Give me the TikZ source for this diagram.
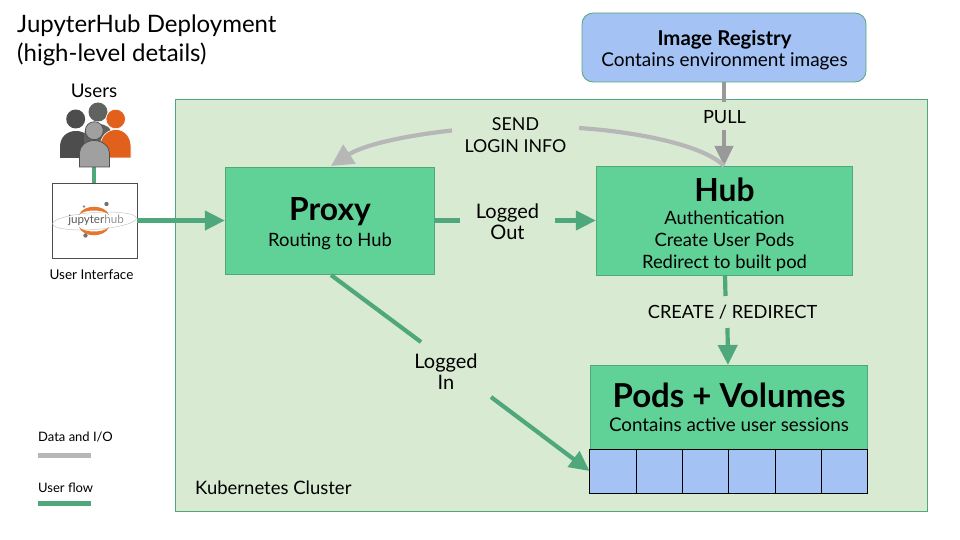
\documentclass[tikz,border=0pt]{standalone}
\usepackage{fontspec}
\setmainfont{Lato}
\usetikzlibrary{arrows.meta}
\definecolor{clusterbg}{HTML}{D9EAD3}
\definecolor{edgegreen}{HTML}{4FA77C}
\definecolor{boxgreen}{HTML}{61D297}
\definecolor{bluefill}{HTML}{A4C2F4}
\definecolor{flowgray}{HTML}{B7B7B7}
\definecolor{pullgray}{HTML}{999999}
\definecolor{persondark}{HTML}{4D4D4D}
\definecolor{personmid}{HTML}{5F6360}
\definecolor{personfront}{HTML}{A0A0A0}
\definecolor{personorange}{HTML}{E0601C}
\definecolor{logoorange}{HTML}{E8772E}
\tikzset{
  x=1pt,y=-1pt,
  boxn/.style={draw=edgegreen,line width=.8pt,fill=boxgreen,minimum width=#1,inner sep=0pt,align=center,text=black},
  flow/.style={draw=edgegreen,line width=4.2pt},
  flowtip/.style={flow,-{Triangle[length=20pt,width=19pt]}},
  data/.style={draw=flowgray,line width=4.2pt},
  datatip/.style={data,-{Triangle[length=22pt,width=22pt]}},
  pull/.style={draw=pullgray,line width=4.2pt},
  pulltip/.style={pull,-{Triangle[length=20pt,width=18pt]}},
  lbl/.style={font=\fontsize{18.2pt}{21pt}\selectfont,align=center,inner sep=0pt,text=black},
  lblw/.style={font=\fontsize{20pt}{21pt}\selectfont,align=center,inner sep=0pt,text=black},
  lbls/.style={font=\fontsize{18.4pt}{22pt}\selectfont,align=center,inner sep=0pt,text=black},
  small/.style={font=\fontsize{13pt}{16pt}\selectfont,inner sep=0pt,text=black},
  cell/.style={draw=black,line width=.9pt,fill=bluefill},
  person/.style={draw=none,fill=#1},
}
\begin{document}
\begin{tikzpicture}
\useasboundingbox (0,0) rectangle (960,540);
\fill[white] (0,0) rectangle (960,540);
% title
\node[anchor=north west,inner sep=0pt,align=left,font=\fontsize{24pt}{29pt}\selectfont] (title) at (17,15) {JupyterHub Deployment\\(high-level details)};
% cluster
\node[draw=edgegreen,line width=.8pt,fill=clusterbg,minimum width=751.5pt,minimum height=412pt,inner sep=0pt] (cluster) at (551.3,305.5) {};
\node[anchor=west,font=\fontsize{18.5pt}{20pt}\selectfont,inner sep=0pt] (clusterlabel) at (195,487.5) {Kubernetes Cluster};
% image registry
\node[draw=edgegreen,line width=.8pt,fill=bluefill,rounded corners=11pt,minimum width=284pt,minimum height=69pt,inner sep=0pt] (registry) at (724,47.5) {};
\node[lbls,font=\fontsize{19pt}{22pt}\selectfont] (registrytext) at (724.5,50) {{\fontsize{20.4pt}{22pt}\selectfont\textbf{Image Registry}}\\[-.5pt]Contains environment images};
% proxy
\node[boxn=209.5pt,minimum height=107pt] (proxy) at (330,220.5) {};
\node[inner sep=0pt,font=\fontsize{31.8pt}{34pt}\selectfont\bfseries] (proxytitle) at (330,212) {Proxy};
\node[lbls] (proxysub) at (330,241) {Routing to Hub};
% hub
\node[boxn=256.5pt,minimum height=109pt] (hub) at (724.5,220.5) {};
\node[inner sep=0pt,font=\fontsize{31.8pt}{34pt}\selectfont\bfseries] (hubtitle) at (724.5,190) {Hub};
\node[lbls] (hubsub) at (724.5,241.5) {Authentication\\Create User Pods\\Redirect to built pod};
% pods
\node[boxn=277pt,minimum height=84pt] (pods) at (728.5,407) {};
\node[inner sep=0pt,font=\fontsize{33pt}{35pt}\selectfont\bfseries] (podstitle) at (729,395) {Pods + Volumes};
\node[lbls,font=\fontsize{18.8pt}{22pt}\selectfont] (podssub) at (729,424.5) {Contains active user sessions};
% cells
\foreach \a/\b/\n in {589.5/636.5/1,636.5/682.5/2,682.5/728.5/3,728.5/775.5/4,775.5/821.5/5,821.5/867.5/6}{
  \draw[cell] (\a,449) rectangle (\b,493);
}
\coordinate (cellsw) at (589.5,471);
% users
\node[person=persondark,inner sep=0pt,circle,minimum size=19pt] (u1) at (75.7,119) {};
\fill[persondark] (60,158) -- (60,147) .. controls (60,136) and (68,131) .. (76,131) .. controls (84,131) and (92,136) .. (92,147) -- (92,158) -- cycle;
\node[person=personmid,inner sep=0pt,circle,minimum size=19pt] (u2) at (98,112) {};
\fill[personmid] (84,150) -- (84,135) .. controls (84,128) and (90,124) .. (98,124) .. controls (106,124) and (112,128) .. (112,135) -- (112,150) -- cycle;
\node[person=personorange,draw=white,line width=.6pt,inner sep=0pt,circle,minimum size=19.5pt] (u3) at (115.7,119) {};
\fill[personorange,draw=white,line width=.6pt] (100,158) -- (100,147) .. controls (100,136) and (108,129.5) .. (116,129.5) .. controls (124,129.5) and (131,136) .. (131,147) -- (131,158) -- cycle;
\draw[flow] (94,165) -- (94,183);
\fill[personfront,draw=persondark,line width=.7pt] (79.5,167) -- (79.5,153) .. controls (79.5,146) and (86,140.5) .. (94.3,140.5) .. controls (102,140.5) and (109.5,146) .. (109.5,153) -- (109.5,167) -- cycle;
\node[draw=persondark,line width=.7pt,fill=personfront,inner sep=0pt,circle,minimum size=18pt] (u4) at (94.3,130.7) {};
\node[font=\fontsize{18.8pt}{20pt}\selectfont,inner sep=0pt] (userslabel) at (94,91) {Users};
% UI box
\node[draw=persondark,line width=.8pt,fill=white,minimum width=84.5pt,minimum height=75pt,inner sep=0pt] (ui) at (94.7,220.5) {};
\node[font=\fontsize{13.5pt}{15pt}\selectfont,inner sep=0pt] (uilabel) at (91.5,274.5) {User Interface};
% logo
\draw[black!22,line width=.5pt,rotate around={4:(94.5,221)}] (94.5,221) ellipse (42pt and 8.5pt);
\fill[logoorange] (79,215) .. controls (83,204) and (105,204) .. (109,215) .. controls (104,209) and (84,209) .. (79,215) -- cycle;
\fill[logoorange] (79,227) .. controls (83,238) and (105,238) .. (109,227) .. controls (104,233) and (84,233) .. (79,227) -- cycle;
\fill[black!55] (106.5,204) circle (2.2pt);
\fill[black!55] (85.5,235.5) circle (2.2pt);
\fill[black!45] (84,206.5) circle (1.3pt);
\node[inner sep=0pt,font=\fontsize{11.6pt}{12pt}\selectfont] (logotext) at (96,220) {\textcolor{black!65}{jupyter}\textcolor{black!42}{hub}};
% connector labels
\node[lbl] (pull) at (724.5,117) {PULL};
\node[lbl,font=\fontsize{17.8pt}{21.5pt}\selectfont] (send) at (515.5,135) {SEND\\LOGIN INFO};
\node[lblw] (out) at (507.5,221.5) {Logged\\Out};
\node[lblw] (in) at (446,371.5) {Logged\\In};
\node[lbl] (create) at (732.5,312) {CREATE / REDIRECT};
% connector break points
\coordinate (ina) at (421,342);
\coordinate (inb) at (491,397);
\coordinate (senda) at (452,130.5);
\coordinate (sendb) at (579,128);
\coordinate (outa) at (460,220.5);
\coordinate (outb) at (555,220.5);
% connectors
\draw[flowtip] (ui.east |- proxy.west) -- (proxy.west);
\draw[flow] (proxy.east) -- (outa);
\draw[flowtip] (outb) -- (hub.west);
\draw[flow] (331,275) -- (ina);
\draw[flowtip] (inb) -- (cellsw);
\draw[flow] (725,275) -- (725.5,296);
\draw[flowtip] (727.5,328) -- (728,365);
\draw[pull] (724,82) -- (724,102);
\draw[pulltip] (724,130) -- (724,166);
\draw[datatip] (senda) .. controls (410,135) and (365,144) .. (331,166);
\draw[data] (sendb) .. controls (640,132) and (705,146) .. (724,166);
% legend
\node[anchor=west,small] (legenda) at (38,437) {Data and I/O};
\node[anchor=west,small] (legendb) at (38,487.5) {User flow};
\coordinate (la1) at (38,455.5);\coordinate (la2) at (91,455.5);
\coordinate (lb1) at (38,503.5);\coordinate (lb2) at (91,503.5);
\draw[data] (la1) -- (la2);
\draw[flow] (lb1) -- (lb2);
\end{tikzpicture}
\end{document}
